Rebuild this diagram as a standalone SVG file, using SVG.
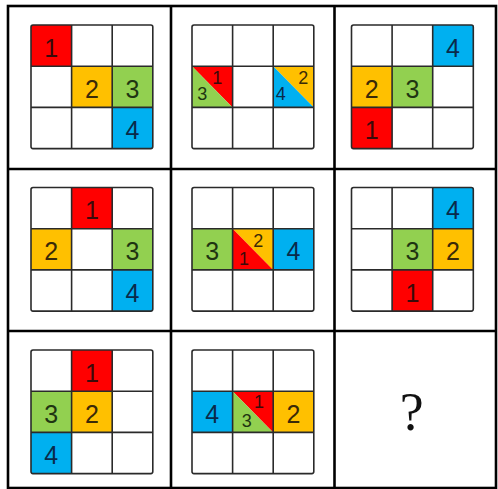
<svg xmlns="http://www.w3.org/2000/svg" width="498" height="489" viewBox="0 0 498 489">
<style>
.frame{fill:none;stroke:#000;stroke-width:2.6}
.grid{fill:none;stroke:#2a2a2a;stroke-width:1.6}
.r{fill:#ff0000}.o{fill:#ffc000}.g{fill:#92d050}.b{fill:#00b0f0}
text{font-family:"Liberation Sans","DejaVu Sans",sans-serif;text-anchor:middle}
.big{font-size:25px}.sm{font-size:18px}
.t1{fill:#3a0a0a}.t2{fill:#3a2a08}.t3{fill:#1f3512}.t4{fill:#0a2a4a}
.q{font-family:"Liberation Serif","DejaVu Serif",serif;font-size:54px;fill:#111}
</style>
<defs>
<g id="grid3">
<rect x="0" y="0" width="121.8" height="123.6" rx="2" class="grid"/>
<line x1="40.6" y1="0" x2="40.6" y2="123.6" class="grid"/>
<line x1="81.2" y1="0" x2="81.2" y2="123.6" class="grid"/>
<line x1="0" y1="41.2" x2="121.8" y2="41.2" class="grid"/>
<line x1="0" y1="82.4" x2="121.8" y2="82.4" class="grid"/>
</g>
</defs>
<rect x="0" y="0" width="498" height="489" fill="#fff"/>
<g id="frame">
<rect x="8" y="6" width="488" height="482" class="frame"/>
<line x1="171" y1="6" x2="171" y2="488" class="frame"/>
<line x1="334.5" y1="6" x2="334.5" y2="488" class="frame"/>
<line x1="8" y1="169" x2="496" y2="169" class="frame"/>
<line x1="8" y1="331" x2="496" y2="331" class="frame"/>
</g>
<g id="p1" transform="translate(31,25)">
<rect x="0" y="0" width="40.6" height="41.2" class="r"/>
<rect x="40.6" y="41.2" width="40.6" height="41.2" class="o"/>
<rect x="81.2" y="41.2" width="40.6" height="41.2" class="g"/>
<rect x="81.2" y="82.4" width="40.6" height="41.2" class="b"/>
<use href="#grid3"/>
<text x="20.3" y="31.7" class="big t1">1</text>
<text x="60.9" y="72.9" class="big t2">2</text>
<text x="101.5" y="72.9" class="big t3">3</text>
<text x="101.5" y="114.1" class="big t4">4</text>
</g>
<g id="p2" transform="translate(192,25)">
<polygon points="0,41.2 40.6,41.2 40.6,82.4" class="r"/>
<polygon points="0,41.2 0,82.4 40.6,82.4" class="g"/>
<polygon points="81.2,41.2 121.8,41.2 121.8,82.4" class="o"/>
<polygon points="81.2,41.2 81.2,82.4 121.8,82.4" class="b"/>
<use href="#grid3"/>
<text x="25.3" y="59.3" class="sm t1">1</text>
<text x="10.3" y="75.3" class="sm t3">3</text>
<text x="111.3" y="59.3" class="sm t2">2</text>
<text x="88.7" y="74.6" class="sm t4">4</text>
</g>
<g id="p3" transform="translate(351.5,25)">
<rect x="81.2" y="0" width="40.6" height="41.2" class="b"/>
<rect x="0" y="41.2" width="40.6" height="41.2" class="o"/>
<rect x="40.6" y="41.2" width="40.6" height="41.2" class="g"/>
<rect x="0" y="82.4" width="40.6" height="41.2" class="r"/>
<use href="#grid3"/>
<text x="101.5" y="31.7" class="big t4">4</text>
<text x="20.3" y="72.9" class="big t2">2</text>
<text x="60.9" y="72.9" class="big t3">3</text>
<text x="20.3" y="114.1" class="big t1">1</text>
</g>
<g id="p4" transform="translate(31,187.5)">
<rect x="40.6" y="0" width="40.6" height="41.2" class="r"/>
<rect x="0" y="41.2" width="40.6" height="41.2" class="o"/>
<rect x="81.2" y="41.2" width="40.6" height="41.2" class="g"/>
<rect x="81.2" y="82.4" width="40.6" height="41.2" class="b"/>
<use href="#grid3"/>
<text x="60.9" y="31.7" class="big t1">1</text>
<text x="20.3" y="72.9" class="big t2">2</text>
<text x="101.5" y="72.9" class="big t3">3</text>
<text x="101.5" y="114.1" class="big t4">4</text>
</g>
<g id="p5" transform="translate(192,187.5)">
<rect x="0" y="41.2" width="40.6" height="41.2" class="g"/>
<polygon points="40.6,41.2 81.2,41.2 81.2,82.4" class="o"/>
<polygon points="40.6,41.2 40.6,82.4 81.2,82.4" class="r"/>
<rect x="81.2" y="41.2" width="40.6" height="41.2" class="b"/>
<use href="#grid3"/>
<text x="20.3" y="72.9" class="big t3">3</text>
<text x="66.3" y="59.5" class="sm t2">2</text>
<text x="52" y="77.8" class="sm t1">1</text>
<text x="101.5" y="72.9" class="big t4">4</text>
</g>
<g id="p6" transform="translate(351.5,187.5)">
<rect x="81.2" y="0" width="40.6" height="41.2" class="b"/>
<rect x="40.6" y="41.2" width="40.6" height="41.2" class="g"/>
<rect x="81.2" y="41.2" width="40.6" height="41.2" class="o"/>
<rect x="40.6" y="82.4" width="40.6" height="41.2" class="r"/>
<use href="#grid3"/>
<text x="101.5" y="31.7" class="big t4">4</text>
<text x="60.9" y="72.9" class="big t3">3</text>
<text x="101.5" y="72.9" class="big t2">2</text>
<text x="60.9" y="114.1" class="big t1">1</text>
</g>
<g id="p7" transform="translate(31,350)">
<rect x="40.6" y="0" width="40.6" height="41.2" class="r"/>
<rect x="0" y="41.2" width="40.6" height="41.2" class="g"/>
<rect x="40.6" y="41.2" width="40.6" height="41.2" class="o"/>
<rect x="0" y="82.4" width="40.6" height="41.2" class="b"/>
<use href="#grid3"/>
<text x="60.9" y="31.7" class="big t1">1</text>
<text x="20.3" y="72.9" class="big t3">3</text>
<text x="60.9" y="72.9" class="big t2">2</text>
<text x="20.3" y="114.1" class="big t4">4</text>
</g>
<g id="p8" transform="translate(192,350)">
<rect x="0" y="41.2" width="40.6" height="41.2" class="b"/>
<polygon points="40.6,41.2 81.2,41.2 81.2,82.4" class="r"/>
<polygon points="40.6,41.2 40.6,82.4 81.2,82.4" class="g"/>
<rect x="81.2" y="41.2" width="40.6" height="41.2" class="o"/>
<use href="#grid3"/>
<text x="20.3" y="72.9" class="big t4">4</text>
<text x="67" y="57.6" class="sm t1">1</text>
<text x="54.7" y="77" class="sm t3">3</text>
<text x="101.5" y="72.9" class="big t2">2</text>
</g>
<g id="p9">
<text x="411.7" y="430" class="q">?</text>
</g>
</svg>
